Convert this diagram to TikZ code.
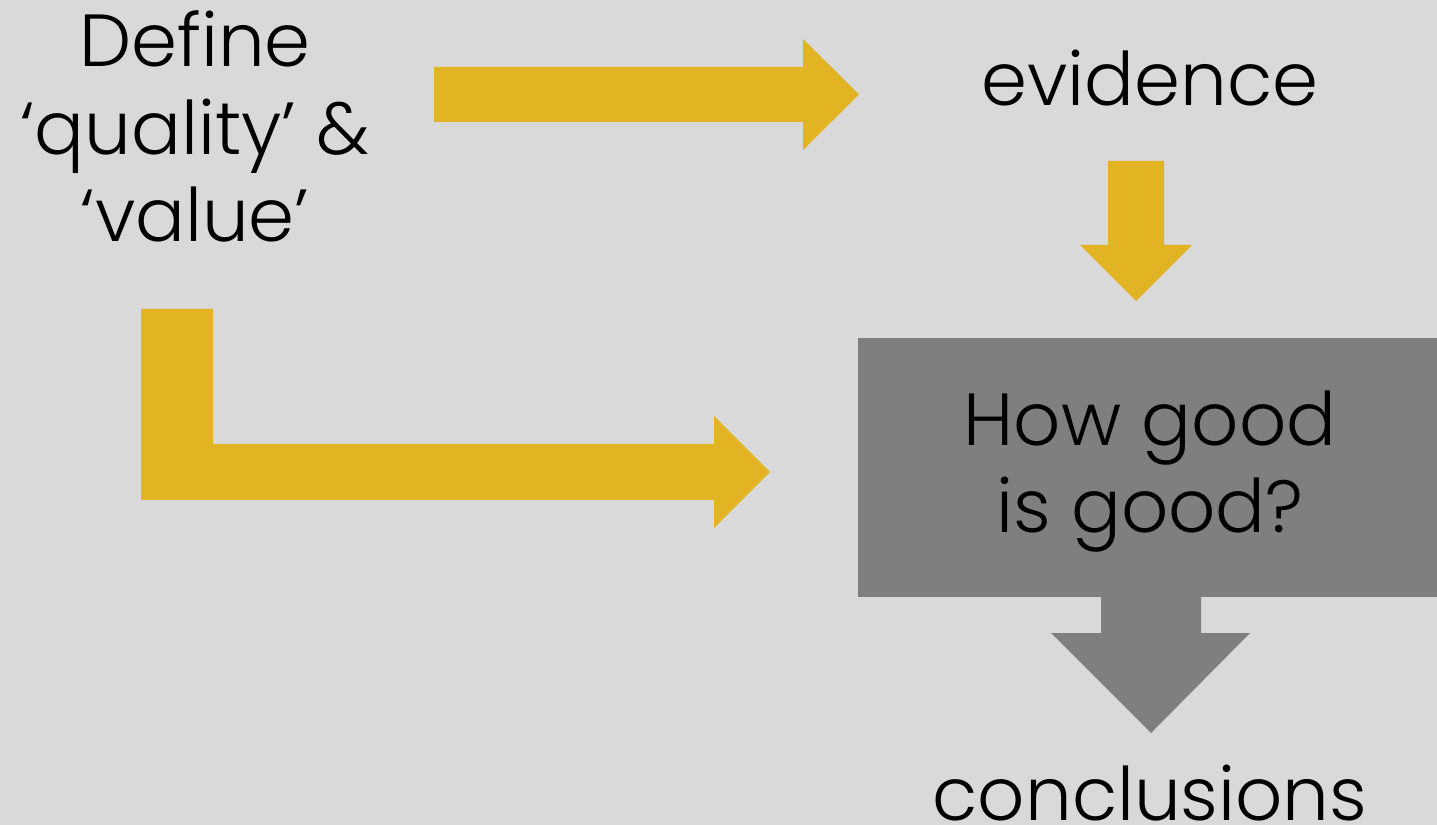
\documentclass[tikz,border=0pt]{standalone}
\usepackage{fontspec}
\setmainfont{Poppins}[UprightFont=* Light]
\usetikzlibrary{positioning}
\definecolor{bg}{HTML}{D9D9D9}
\definecolor{gold}{HTML}{E2B322}
\definecolor{slate}{HTML}{7F7F7F}

\begin{document}
\begin{tikzpicture}[x=0.01cm,y=-0.01cm,
    txt/.style={font=\fontsize{21}{25}\selectfont,inner sep=0pt,align=center},
    goldarrow/.style={fill=gold},
    grayarrow/.style={fill=slate}]
        \fill[bg] (0,0) rectangle (1437,825);
        \clip (0,0) rectangle (1437,825);
        % text (base = last line)
        \node[txt,anchor=base] (define) at (195,242) {Define\\‘quality’ \&\\‘value’};
        \node[txt,anchor=base] (evidence) at (1150,106) {evidence};
        \node[fill=slate,anchor=north west,minimum width=5.8cm,minimum height=2.59cm,inner sep=0pt] (box) at (857,337) {};
        \node[txt,anchor=base] (how) at (1150,533) {How good\\is good?};
        \node[txt,anchor=base] (concl) at (1150,820) {conclusions};
        % arrows
        \fill[goldarrow] (434,67) -- (803,67) -- (803,39) -- (859,94.5) -- (803,150) -- (803,122) -- (434,122) -- cycle;
        \fill[goldarrow] (1108,161) -- (1164,161) -- (1164,245) -- (1192,245) -- (1136,301) -- (1080,245) -- (1108,245) -- cycle;
        \fill[goldarrow] (141,309) -- (213,309) -- (213,444) -- (714,444) -- (714,416) -- (770,472) -- (714,528) -- (714,500) -- (141,500) -- cycle;
        \fill[grayarrow] (1101,595) -- (1201,595) -- (1201,633) -- (1250,633) -- (1151,733) -- (1051,633) -- (1101,633) -- cycle;
\end{tikzpicture}
\end{document}
